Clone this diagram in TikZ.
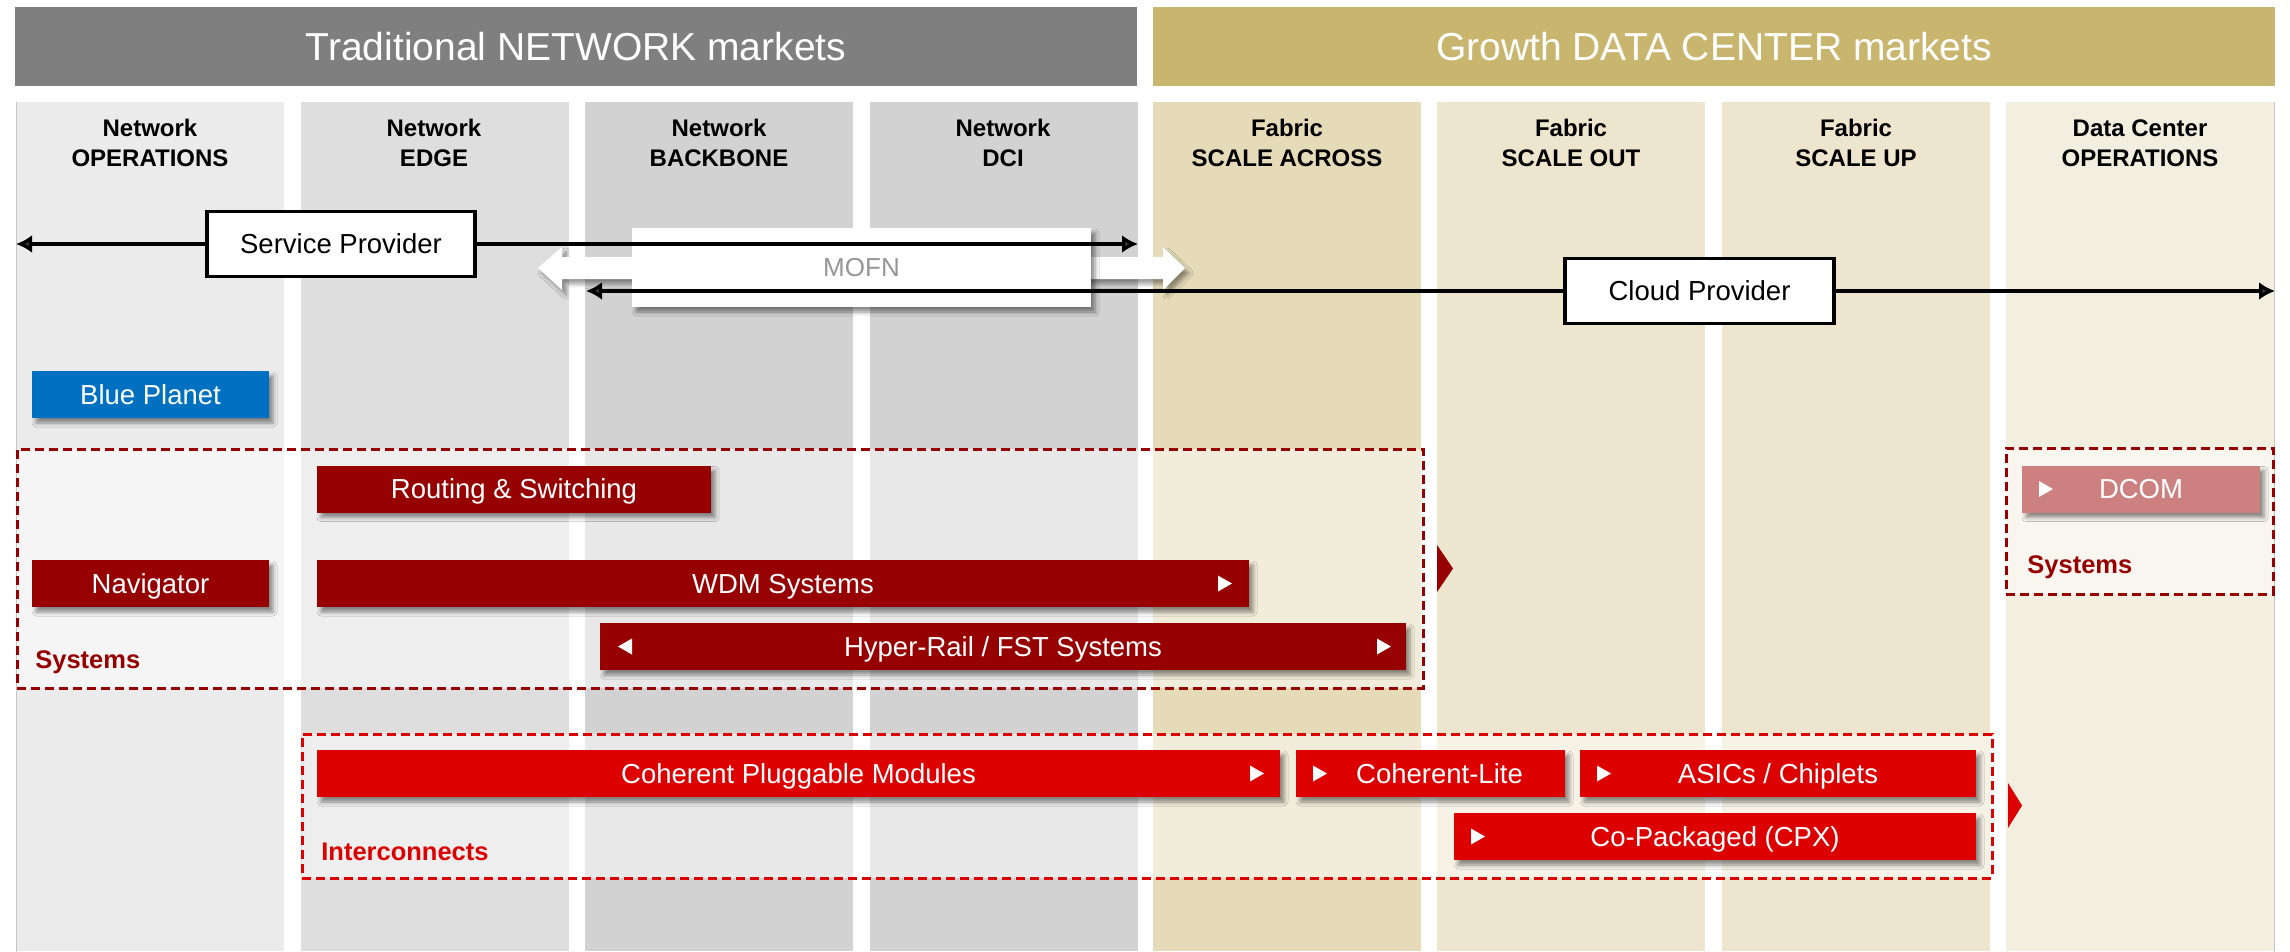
\documentclass[tikz,border=0pt]{standalone}
\usepackage{fontspec}
\setmainfont{Liberation Sans}
\usetikzlibrary{arrows.meta,shadows.blur}

\definecolor{hdrgrey}{RGB}{127,127,127}
\definecolor{hdrgold}{RGB}{201,182,110}
\definecolor{colA}{RGB}{235,235,235}
\definecolor{colB}{RGB}{222,222,222}
\definecolor{colC}{RGB}{210,210,210}
\definecolor{colD}{RGB}{229,219,184}
\definecolor{colE}{RGB}{237,229,205}
\definecolor{colF}{RGB}{242,238,224}
\definecolor{sysred}{RGB}{150,0,0}
\definecolor{icred}{RGB}{220,0,0}
\definecolor{dcomred}{RGB}{204,128,128}
\definecolor{bpblue}{RGB}{0,112,192}
\definecolor{mofngrey}{RGB}{150,150,150}

\tikzset{every picture/.style={line width=0.75pt}}
\tikzset{
	colbar/.style={draw=none, inner sep=0pt, anchor=north west, minimum width=268pt, minimum height=849pt},
	mkt/.style={draw=none, inner sep=0pt, text=white, minimum width=1122pt, minimum height=79pt, text height=28pt, text depth=0pt, font=\fontsize{39}{42}\selectfont},
	colhead/.style={align=center, font=\fontsize{24}{30}\selectfont\bfseries},
	prov/.style={draw=black, line width=3.5pt, fill=white, inner sep=0pt, minimum height=65pt, text height=19.7pt, text depth=0pt, font=\fontsize{27.5}{30}\selectfont},
	provline/.style={line width=3.5pt, -{Latex[length=16pt,width=18pt]}},
	btn/.style={draw=none, inner sep=0pt, text=white, minimum height=47pt, text height=19.7pt, text depth=0pt, font=\fontsize{27.5}{30}\selectfont,
		blur shadow={shadow xshift=4pt, shadow yshift=-5pt, shadow blur radius=4pt, shadow opacity=45}},
	grp/.style={line width=2.5pt, dash pattern={on 9pt off 5pt}, fill=white, fill opacity=0.5, anchor=north west, inner sep=0pt},
	grplbl/.style={anchor=west, inner sep=0pt, font=\fontsize{25.5}{28}\selectfont\bfseries}
}
\newcommand{\rtri}[3][white]{\fill[#1] (#2,#3-8) -- (#2+14,#3) -- (#2,#3+8) -- cycle;}
\newcommand{\ltri}[3][white]{\fill[#1] (#2,#3-8) -- (#2-14,#3) -- (#2,#3+8) -- cycle;}

\begin{document}
\begin{tikzpicture}[x=1pt,y=1pt,yscale=-1,xscale=1]
	\useasboundingbox (0,0) rectangle (2290,951);

	%Shape: Columns
	\node[colbar, fill=colA] (c1) at (16,102) {};
	\node[colbar, fill=colB] (c2) at (301,102) {};
	\node[colbar, fill=colC] (c3) at (585,102) {};
	\node[colbar, fill=colC] (c4) at (870,102) {};
	\node[colbar, fill=colD] (c5) at (1153,102) {};
	\node[colbar, fill=colE] (c6) at (1437,102) {};
	\node[colbar, fill=colE] (c7) at (1722,102) {};
	\node[colbar, fill=colF] (c8) at (2006,102) {};
	\draw[gray!45, line width=1pt] (c1.north west) -- (c1.south west);
	\draw[gray!45, line width=1pt] (c8.north east) -- (c8.south east);

	%Shape: Market headers
	\node[mkt, fill=hdrgrey] (trad) at (576,46.5) {Traditional NETWORK markets};
	\node[mkt, fill=hdrgold] (grow) at (1714,46.5) {Growth DATA CENTER markets};

	% Text Node
	\node[colhead] (h1) at (150,143) {Network\\OPERATIONS};
	\node[colhead] (h2) at (434,143) {Network\\EDGE};
	\node[colhead] (h3) at (719,143) {Network\\BACKBONE};
	\node[colhead] (h4) at (1003,143) {Network\\DCI};
	\node[colhead] (h5) at (1287,143) {Fabric\\SCALE ACROSS};
	\node[colhead] (h6) at (1571,143) {Fabric\\SCALE OUT};
	\node[colhead] (h7) at (1856,143) {Fabric\\SCALE UP};
	\node[colhead] (h8) at (2140,143) {Data Center\\OPERATIONS};

	%Shape: MOFN double arrow
	\fill[white, blur shadow={shadow xshift=4pt, shadow yshift=-5pt, shadow blur radius=4pt, shadow opacity=40}]
		(538,268) -- (562,247) -- (562,257) -- (1163,257) -- (1163,247) -- (1185,268)
		-- (1163,290) -- (1163,279) -- (562,279) -- (562,290) -- cycle;
	\node[btn, fill=white, text=mofngrey, minimum width=459pt, minimum height=79pt, text height=18.6pt, font=\fontsize{26}{30}\selectfont] (mofn) at (861.5,267.5) {MOFN};

	%Straight Lines: Service Provider
	\coordinate (spL) at (16,244);
	\coordinate (spR) at (1138,244);
	\node[prov, minimum width=268pt] (sp) at (341,244) {Service Provider};
	\draw[provline] (sp) -- (spL);
	\draw[provline] (sp) -- (spR);

	%Straight Lines: Cloud Provider
	\coordinate (cpL) at (586,291);
	\coordinate (cpR) at (2275,291);
	\node[prov, minimum width=269pt] (cp) at (1699.5,291) {Cloud Provider};
	\draw[provline] (cp) -- (cpL);
	\draw[provline] (cp) -- (cpR);

	%Shape: Blue Planet
	\node[btn, fill=bpblue, minimum width=237pt] (bp) at (150.5,394.5) {Blue Planet};

	%Shape: Systems group
	\node[grp, draw=sysred, minimum width=1406pt, minimum height=239pt] (sysgrp) at (16,448) {};
	\node[grplbl, text=sysred] (syslbl) at (35,662) {Systems};
	\fill[sysred] (1437,545) -- (1453,568.5) -- (1437,592) -- cycle;

	\node[btn, fill=sysred, minimum width=394pt] (rs) at (514,489) {Routing \& Switching};
	\node[btn, fill=sysred, minimum width=237pt] (nav) at (150.5,583.5) {Navigator};
	\node[btn, fill=sysred, minimum width=932pt] (wdm) at (783,583.5) {WDM Systems};
	\rtri{1218}{583.5}
	\node[btn, fill=sysred, minimum width=806pt] (hr) at (1003,646.5) {Hyper-Rail / FST Systems};
	\ltri{632}{646.5}
	\rtri{1377}{646.5}

	%Shape: DCOM group
	\node[grp, draw=sysred, minimum width=267pt, minimum height=146pt] (dcgrp) at (2005,447) {};
	\node[grplbl, text=sysred] (dclbl) at (2027,567) {Systems};
	\node[btn, fill=dcomred, minimum width=238pt] (dcom) at (2141,489) {DCOM};
	\rtri{2039}{489}

	%Shape: Interconnects group
	\node[grp, draw=icred, minimum width=1690pt, minimum height=144pt] (icgrp) at (301,733) {};
	\node[grplbl, text=icred] (iclbl) at (321,852) {Interconnects};
	\fill[icred] (2008,783) -- (2022,805.5) -- (2008,828) -- cycle;

	\node[btn, fill=icred, minimum width=963pt] (cpm) at (798.5,773.5) {Coherent Pluggable Modules};
	\rtri{1250}{773.5}
	\node[btn, fill=icred, minimum width=269pt] (cl) at (1430.5,773.5) {\hspace*{18pt}Coherent-Lite};
	\rtri{1313}{773.5}
	\node[btn, fill=icred, minimum width=396pt] (asic) at (1778,773.5) {ASICs / Chiplets};
	\rtri{1597}{773.5}
	\node[btn, fill=icred, minimum width=522pt] (cpx) at (1715,836.5) {Co-Packaged (CPX)};
	\rtri{1471}{836.5}

\end{tikzpicture}
\end{document}
